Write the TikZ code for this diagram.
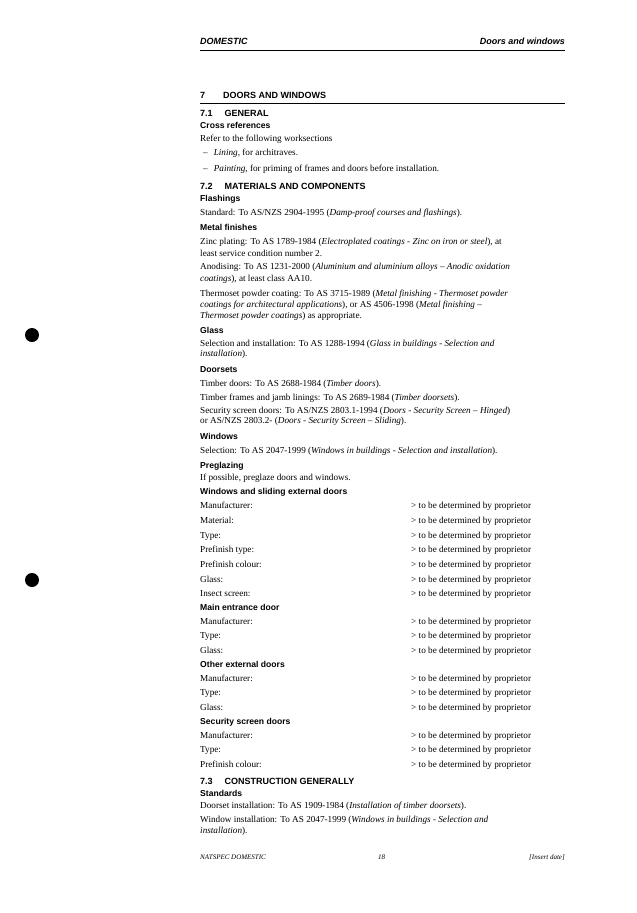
\documentclass[tikz,border=0pt]{standalone}
\usepackage{fontspec}
\setmainfont{Liberation Serif}
\setsansfont{Liberation Sans}
\begin{document}
\begin{tikzpicture}[x=1pt,y=-1pt,
  body/.style={anchor=base west,inner sep=0pt,font=\fontsize{9.2}{11}\selectfont},
  head/.style={anchor=base west,inner sep=0pt,font=\sffamily\bfseries\fontsize{8.6}{10}\selectfont},
  sec/.style={anchor=base west,inner sep=0pt,font=\sffamily\bfseries\fontsize{9}{10}\selectfont}]
\useasboundingbox[fill=white](0,0) rectangle (637,913);
% running head
\node[sec,font=\sffamily\bfseries\itshape\fontsize{9}{10}\selectfont] (rhl) at (200,44) {DOMESTIC};
\node[sec,font=\sffamily\bfseries\itshape\fontsize{9}{10}\selectfont,anchor=base east] (rhr) at (565,44) {Doors and windows};
\draw[line width=0.5pt] (200,50)--(565,50);
% section 7
\node[sec] (s7) at (200,98) {7\hspace{18pt}DOORS AND WINDOWS};
\draw[line width=0.5pt] (200,103)--(565,103);
\node[sec] (s71) at (200,116) {7.1\hspace{12pt}GENERAL};
\node[head] (cr) at (200,128) {Cross references};
\node[body] (t1) at (200,141) {Refer to the following worksections};
\node[body] (t2) at (200,155) {\hspace{3pt}--\hspace{6pt}\textit{Lining}, for architraves.};
\node[body] (t3) at (200,171) {\hspace{3pt}--\hspace{6pt}\textit{Painting}, for priming of frames and doors before installation.};
\node[sec] (s72) at (200,189) {7.2\hspace{12pt}MATERIALS AND COMPONENTS};
\node[head] (fl) at (200,201) {Flashings};
\node[body] (t4) at (200,215) {Standard: To AS/NZS 2904-1995 (\textit{Damp-proof courses and flashings}).};
\node[head] (mf) at (200,230) {Metal finishes};
\node[body] (t5) at (200,244) {Zinc plating: To AS 1789-1984 (\textit{Electroplated coatings - Zinc on iron or steel}), at};
\node[body] (t6) at (200,256) {least service condition number 2.};
\node[body] (t7) at (200,269) {Anodising: To AS 1231-2000 (\textit{Aluminium and aluminium alloys -- Anodic oxidation}};
\node[body] (t8) at (200,281) {\textit{coatings}), at least class AA10.};
\node[body] (t9) at (200,296) {Thermoset powder coating: To AS 3715-1989 (\textit{Metal finishing - Thermoset powder}};
\node[body] (t10) at (200,307) {\textit{coatings for architectural applications}), or AS 4506-1998 (\textit{Metal finishing --}};
\node[body] (t11) at (200,318) {\textit{Thermoset powder coatings}) as appropriate.};
\node[head] (gl) at (200,333) {Glass};
\node[body] (t12) at (200,346) {Selection and installation: To AS 1288-1994 (\textit{Glass in buildings - Selection and}};
\node[body] (t13) at (200,356) {\textit{installation}).};
\node[head] (ds) at (200,372) {Doorsets};
\node[body] (t14) at (200,386) {Timber doors: To AS 2688-1984 (\textit{Timber doors}).};
\node[body] (t15) at (200,400) {Timber frames and jamb linings: To AS 2689-1984 (\textit{Timber doorsets}).};
\node[body] (t16) at (200,413) {Security screen doors: To AS/NZS 2803.1-1994 (\textit{Doors - Security Screen -- Hinged})};
\node[body] (t17) at (200,423) {or AS/NZS 2803.2- (\textit{Doors - Security Screen -- Sliding}).};
\node[head] (wi) at (200,439) {Windows};
\node[body] (t18) at (200,453) {Selection: To AS 2047-1999 (\textit{Windows in buildings - Selection and installation}).};
\node[head] (pg) at (200,468) {Preglazing};
\node[body] (t19) at (200,480) {If possible, preglaze doors and windows.};
% schedules
\foreach \y/\h in {494/Windows and sliding external doors,610/Main entrance door,667/Other external doors,724/Security screen doors}
  \node[head] at (200,\y) {\h};
\foreach \y/\f in {508/Manufacturer:,523/Material:,538/Type:,552/Prefinish type:,567/Prefinish colour:,582/Glass:,596/Insect screen:,
  624/Manufacturer:,638/Type:,653/Glass:,681/Manufacturer:,695/Type:,710/Glass:,738/Manufacturer:,752/Type:,767/Prefinish colour:}{
  \node[body] at (200,\y) {\f};
  \node[body] at (411,\y) {> to be determined by proprietor};
}
\node[sec] (s73) at (200,784) {7.3\hspace{12pt}CONSTRUCTION GENERALLY};
\node[head] (st) at (200,796) {Standards};
\node[body] (t20) at (200,808) {Doorset installation: To AS 1909-1984 (\textit{Installation of timber doorsets}).};
\node[body] (t21) at (200,822) {Window installation: To AS 2047-1999 (\textit{Windows in buildings - Selection and}};
\node[body] (t22) at (200,833) {\textit{installation}).};
% footer
\node[body,font=\itshape\fontsize{7}{8}\selectfont] (fl1) at (200,859) {NATSPEC DOMESTIC};
\node[body,font=\itshape\fontsize{7}{8}\selectfont] (fl2) at (378,859) {18};
\node[body,font=\itshape\fontsize{7}{8}\selectfont,anchor=base east] (fl3) at (565,859) {[Insert date]};
% punch holes
\fill (32,335) circle (7);
\fill (32,580) circle (7);
\end{tikzpicture}
\end{document}
